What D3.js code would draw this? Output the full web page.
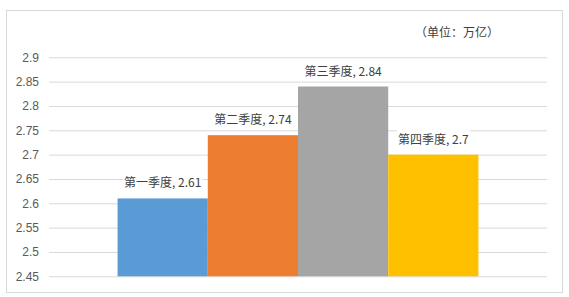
<!DOCTYPE html>
<html>
<head>
<meta charset="utf-8">
<script src="https://cdn.jsdelivr.net/npm/d3@7"></script>
<style>
  body { margin: 0; background: #fff; }
  text { font-family: "Noto Sans CJK SC", "Liberation Sans", sans-serif; }
</style>
</head>
<body>
<div class="chart"></div>
<script>
const width = 569
const height = 297

// data
const quarters = ["第一季度", "第二季度", "第三季度", "第四季度"]
const values = [2.61, 2.74, 2.84, 2.7]
const colors = ["#5b9bd5", "#ed7d31", "#a5a5a5", "#ffc000"]
const ticks = [2.45, 2.5, 2.55, 2.6, 2.65, 2.7, 2.75, 2.8, 2.85, 2.9]
const unitLabel = "（单位：万亿）"

const data = quarters.map((q, i) => ({quarter: q, value: values[i], color: colors[i]}))

const svg = d3.select(".chart")
    .append("svg")
    .attr("width", width)
    .attr("height", height)

// outer frame
svg.append("rect")
    .attr("x", 6.5)
    .attr("y", 10.5)
    .attr("width", 556)
    .attr("height", 282)
    .attr("fill", "#fff")
    .attr("stroke", "#d9d9d9")

const margin = {top: 57, right: 22, bottom: 21, left: 49}
const innerWidth = width - margin.left - margin.right
const innerHeight = height - margin.top - margin.bottom

const yScale = d3.scaleLinear()
    .domain([2.45, 2.9])
    .range([innerHeight + 0.3, 0.3])

const x0 = d3.scaleBand()
    .domain([""])
    .range([0, innerWidth])
    .paddingInner(0)
    .paddingOuter(0.19)

const x1 = d3.scaleBand()
    .domain(quarters)
    .range([x0(""), x0("") + x0.bandwidth()])
    .padding(0)

const g = svg.append("g")
    .attr("transform", `translate(${margin.left}, ${margin.top})`)

// gridlines + tick labels
const yAxis = g.append("g")
    .call(d3.axisLeft(yScale)
        .tickValues(ticks)
        .tickSize(-innerWidth)
        .tickPadding(10)
        .tickFormat(d => d3.format("")(+d.toFixed(2))))

yAxis.select(".domain").remove()
yAxis.selectAll(".tick line")
    .attr("stroke", "#d9d9d9")
yAxis.selectAll(".tick text")
    .attr("fill", "#595959")
    .style("font-size", "12px")
    .style("font-family", "'Liberation Sans', 'Noto Sans', sans-serif")

// bars
g.selectAll("rect.bar")
    .data(data)
    .enter().append("rect")
        .attr("class", "bar")
        .attr("x", d => x1(d.quarter))
        .attr("y", d => yScale(d.value))
        .attr("width", x1.bandwidth())
        .attr("height", d => yScale(2.45) - yScale(d.value))
        .attr("fill", d => d.color)

// data labels, with a white box behind them like excel
const labels = g.selectAll("g.label")
    .data(data)
    .enter().append("g")
        .attr("class", "label")

const bg = labels.append("rect")
    .attr("fill", "#fff")

labels.append("text")
    .attr("x", d => x1(d.quarter) + x1.bandwidth() / 2)
    .attr("y", d => yScale(d.value) - 11)
    .attr("text-anchor", "middle")
    .attr("fill", "#404040")
    .style("font-size", "12px")
    .text(d => `${d.quarter}, ${d.value}`)

labels.each(function() {
    const b = d3.select(this).select("text").node().getBBox()
    d3.select(this).select("rect")
        .attr("x", b.x - 1)
        .attr("y", b.y)
        .attr("width", b.width + 2)
        .attr("height", b.height)
})

// unit
svg.append("text")
    .attr("x", 457)
    .attr("y", 37)
    .attr("text-anchor", "middle")
    .attr("fill", "#404040")
    .style("font-size", "12px")
    .text(unitLabel)
</script>
</body>
</html>
